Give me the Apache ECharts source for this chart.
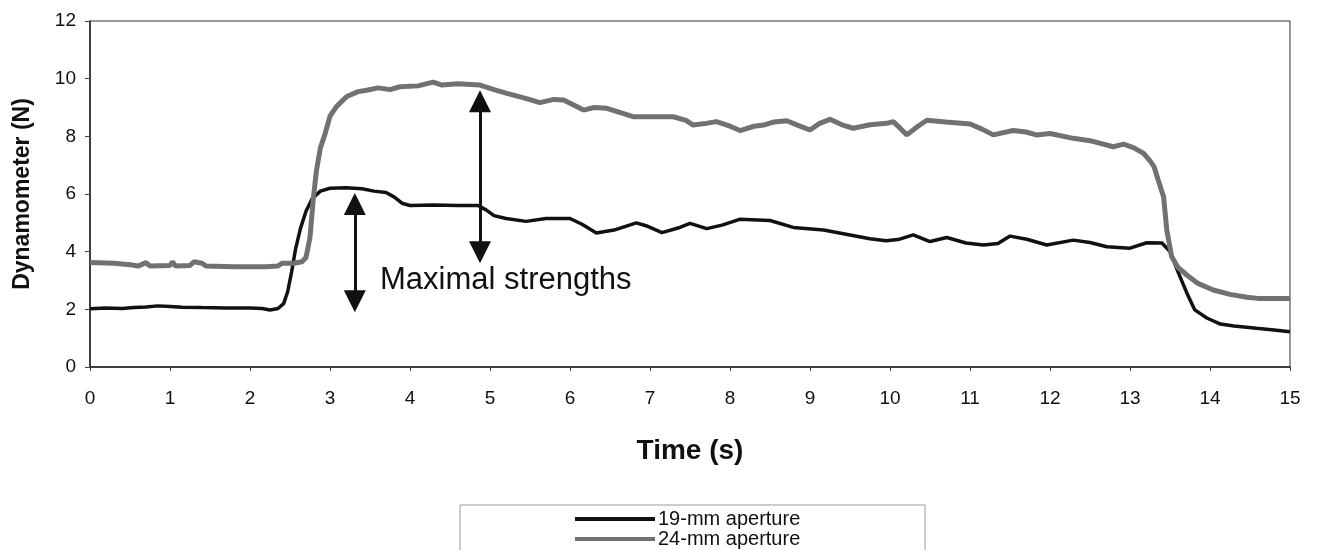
<!DOCTYPE html>
<html>
<head>
<meta charset="utf-8">
<script src="https://cdn.jsdelivr.net/npm/echarts@6/dist/echarts.min.js"></script>
<style>
html,body{margin:0;padding:0;background:#fff;}
#chart{width:1319px;height:550px;}
</style>
</head>
<body>
<div id="chart"></div>
<script>
const seriesNames = ['19-mm aperture', '24-mm aperture'];
const xTitle = 'Time (s)';
const yTitle = 'Dynamometer (N)';
const annotationText = 'Maximal strengths';

// 19-mm aperture: [time (s), force (N)]
const aperture19 = [
  [0,2.02],[0.2,2.05],[0.4,2.03],[0.55,2.06],[0.7,2.08],[0.85,2.12],[1.0,2.1],[1.15,2.07],
  [1.4,2.06],[1.7,2.05],[2.0,2.05],[2.15,2.03],[2.25,1.98],[2.35,2.03],[2.42,2.2],[2.47,2.6],
  [2.52,3.3],[2.57,4.1],[2.63,4.8],[2.7,5.4],[2.78,5.85],[2.88,6.1],[3.0,6.2],[3.2,6.22],
  [3.4,6.18],[3.55,6.1],[3.7,6.05],[3.8,5.9],[3.9,5.68],[4.0,5.6],[4.3,5.62],[4.6,5.6],
  [4.85,5.6],[4.95,5.45],[5.05,5.25],[5.2,5.15],[5.45,5.05],[5.7,5.15],[6.0,5.15],[6.15,4.95],
  [6.33,4.65],[6.55,4.75],[6.83,5.0],[6.95,4.9],[7.15,4.66],[7.35,4.82],[7.5,4.98],[7.71,4.8],
  [7.9,4.92],[8.12,5.12],[8.5,5.08],[8.79,4.84],[9.17,4.75],[9.5,4.58],[9.75,4.45],[9.95,4.38],
  [10.1,4.42],[10.29,4.58],[10.5,4.35],[10.71,4.49],[10.95,4.3],[11.17,4.23],[11.35,4.28],
  [11.5,4.54],[11.71,4.43],[11.96,4.23],[12.29,4.4],[12.5,4.32],[12.71,4.17],[13.0,4.12],
  [13.21,4.31],[13.4,4.3],[13.5,4.0],[13.6,3.3],[13.71,2.57],[13.81,1.98],[13.96,1.7],
  [14.13,1.49],[14.3,1.42],[14.58,1.34],[14.8,1.28],[15.0,1.22]
];

// 24-mm aperture: [time (s), force (N)]
const aperture24 = [
  [0,3.62],[0.3,3.6],[0.5,3.55],[0.6,3.5],[0.7,3.62],[0.75,3.5],[1.0,3.52],[1.03,3.65],
  [1.07,3.5],[1.25,3.52],[1.3,3.65],[1.4,3.6],[1.45,3.5],[1.8,3.48],[2.2,3.48],[2.35,3.5],
  [2.4,3.6],[2.55,3.6],[2.65,3.65],[2.7,3.8],[2.75,4.5],[2.79,5.8],[2.83,6.8],[2.88,7.6],
  [2.94,8.1],[3.0,8.7],[3.08,9.03],[3.21,9.38],[3.35,9.55],[3.46,9.6],[3.6,9.68],[3.75,9.62],
  [3.875,9.72],[4.1,9.75],[4.29,9.88],[4.4,9.78],[4.6,9.82],[4.875,9.78],[5.05,9.62],[5.21,9.49],
  [5.4,9.35],[5.625,9.17],[5.8,9.28],[5.92,9.26],[6.17,8.91],[6.3,9.0],[6.46,8.97],[6.6,8.85],
  [6.79,8.68],[7.29,8.68],[7.45,8.55],[7.54,8.39],[7.7,8.45],[7.83,8.51],[8.0,8.35],[8.125,8.2],
  [8.3,8.35],[8.42,8.39],[8.55,8.5],[8.71,8.54],[8.85,8.38],[9.0,8.22],[9.12,8.45],[9.25,8.59],
  [9.4,8.4],[9.54,8.28],[9.75,8.4],[9.96,8.45],[10.04,8.51],[10.12,8.3],[10.21,8.05],[10.35,8.35],
  [10.46,8.56],[10.7,8.5],[11.0,8.43],[11.15,8.25],[11.29,8.05],[11.54,8.2],[11.7,8.15],[11.83,8.05],
  [12.0,8.1],[12.29,7.93],[12.5,7.85],[12.79,7.64],[12.92,7.73],[13.05,7.6],[13.17,7.41],[13.25,7.15],
  [13.3,6.95],[13.35,6.5],[13.42,5.9],[13.46,4.75],[13.52,3.83],[13.6,3.45],[13.71,3.19],[13.85,2.9],
  [14.04,2.67],[14.25,2.52],[14.46,2.42],[14.6,2.38],[15.0,2.38]
];

// double-headed arrows: [time, upper head centre, lower head centre]
const arrows = [
  [3.31, 5.65, 2.28],
  [4.875, 9.22, 3.98]
];
const annotationPos = [3.625, 3.0];

const xTicks = {min: 0, max: 15, interval: 1};
const yTicks = {min: 0, max: 12, interval: 2};

const colors = ['#111111', '#717171'];
const font = '"Liberation Sans", Arial, sans-serif';
const chart = echarts.init(document.getElementById('chart'), null, {renderer: 'canvas'});

const option = {
  backgroundColor: '#fff',
  animation: false,
  grid: {left: 90, right: 29, top: 21, bottom: 183, show: true, borderColor: '#333', borderWidth: 1, containLabel: false},
  xAxis: {
    type: 'value', min: xTicks.min, max: xTicks.max, interval: xTicks.interval,
    name: xTitle, nameLocation: 'middle', nameGap: 70,
    nameTextStyle: {fontFamily: font, fontWeight: 'bold', fontSize: 28, color: '#111'},
    axisLine: {show: true, onZero: false, lineStyle: {color: '#222', width: 1.5}},
    axisTick: {show: true, inside: false, length: 4, lineStyle: {color: '#444'}},
    axisLabel: {fontFamily: font, fontSize: 19, color: '#111', margin: 22},
    splitLine: {show: false}
  },
  yAxis: {
    type: 'value', min: yTicks.min, max: yTicks.max, interval: yTicks.interval,
    name: yTitle, nameLocation: 'middle', nameGap: 56,
    nameTextStyle: {fontFamily: font, fontWeight: 'bold', fontSize: 23, color: '#111'},
    axisLine: {show: true, lineStyle: {color: '#222', width: 1.5}},
    axisTick: {show: true, inside: false, length: 5, lineStyle: {color: '#444'}},
    axisLabel: {fontFamily: font, fontSize: 19, color: '#111', margin: 14},
    splitLine: {show: false}
  },
  legend: {
    data: [
      {name: seriesNames[0], icon: 'rect', itemStyle: {color: colors[0]}},
      {name: seriesNames[1], icon: 'rect', itemStyle: {color: colors[1]}}
    ],
    orient: 'vertical',
    left: 575, top: 509,
    padding: 0,
    itemGap: 0,
    itemWidth: 80, itemHeight: 4,
    textStyle: {fontFamily: font, fontSize: 20, color: '#111', lineHeight: 15, padding: [0,0,0,-2]}
  },
  series: [
    {
      name: seriesNames[0], type: 'line', data: aperture19, symbol: 'none', smooth: false,
      lineStyle: {color: colors[0], width: 3.5}, itemStyle: {color: colors[0]}, z: 2,
      markLine: {
        silent: true, symbol: ['triangle', 'triangle'], symbolSize: [22, 22], precision: 4,
        lineStyle: {color: '#111', width: 3, type: 'solid'},
        itemStyle: {color: '#111'},
        label: {show: false},
        data: arrows.map(a => [{coord: [a[0], a[1]]}, {coord: [a[0], a[2]]}])
      }
    },
    {
      name: seriesNames[1], type: 'line', data: aperture24, symbol: 'none', smooth: false,
      lineStyle: {color: colors[1], width: 5}, itemStyle: {color: colors[1]}, z: 3
    }
  ]
};
chart.setOption(option);
const p = chart.convertToPixel({gridIndex: 0}, annotationPos);
chart.setOption({
  graphic: [{
    type: 'rect', shape: {x: 460, y: 505, width: 465, height: 60},
    style: {fill: 'none', stroke: '#999', lineWidth: 1}, z: -1
  }, {
    type: 'text', x: p[0], y: p[1], z: 10,
    style: {text: annotationText, fill: '#111', font: '31px "Liberation Sans", Arial, sans-serif', verticalAlign: 'middle', align: 'left'}
  }]
});
</script>
</body>
</html>
